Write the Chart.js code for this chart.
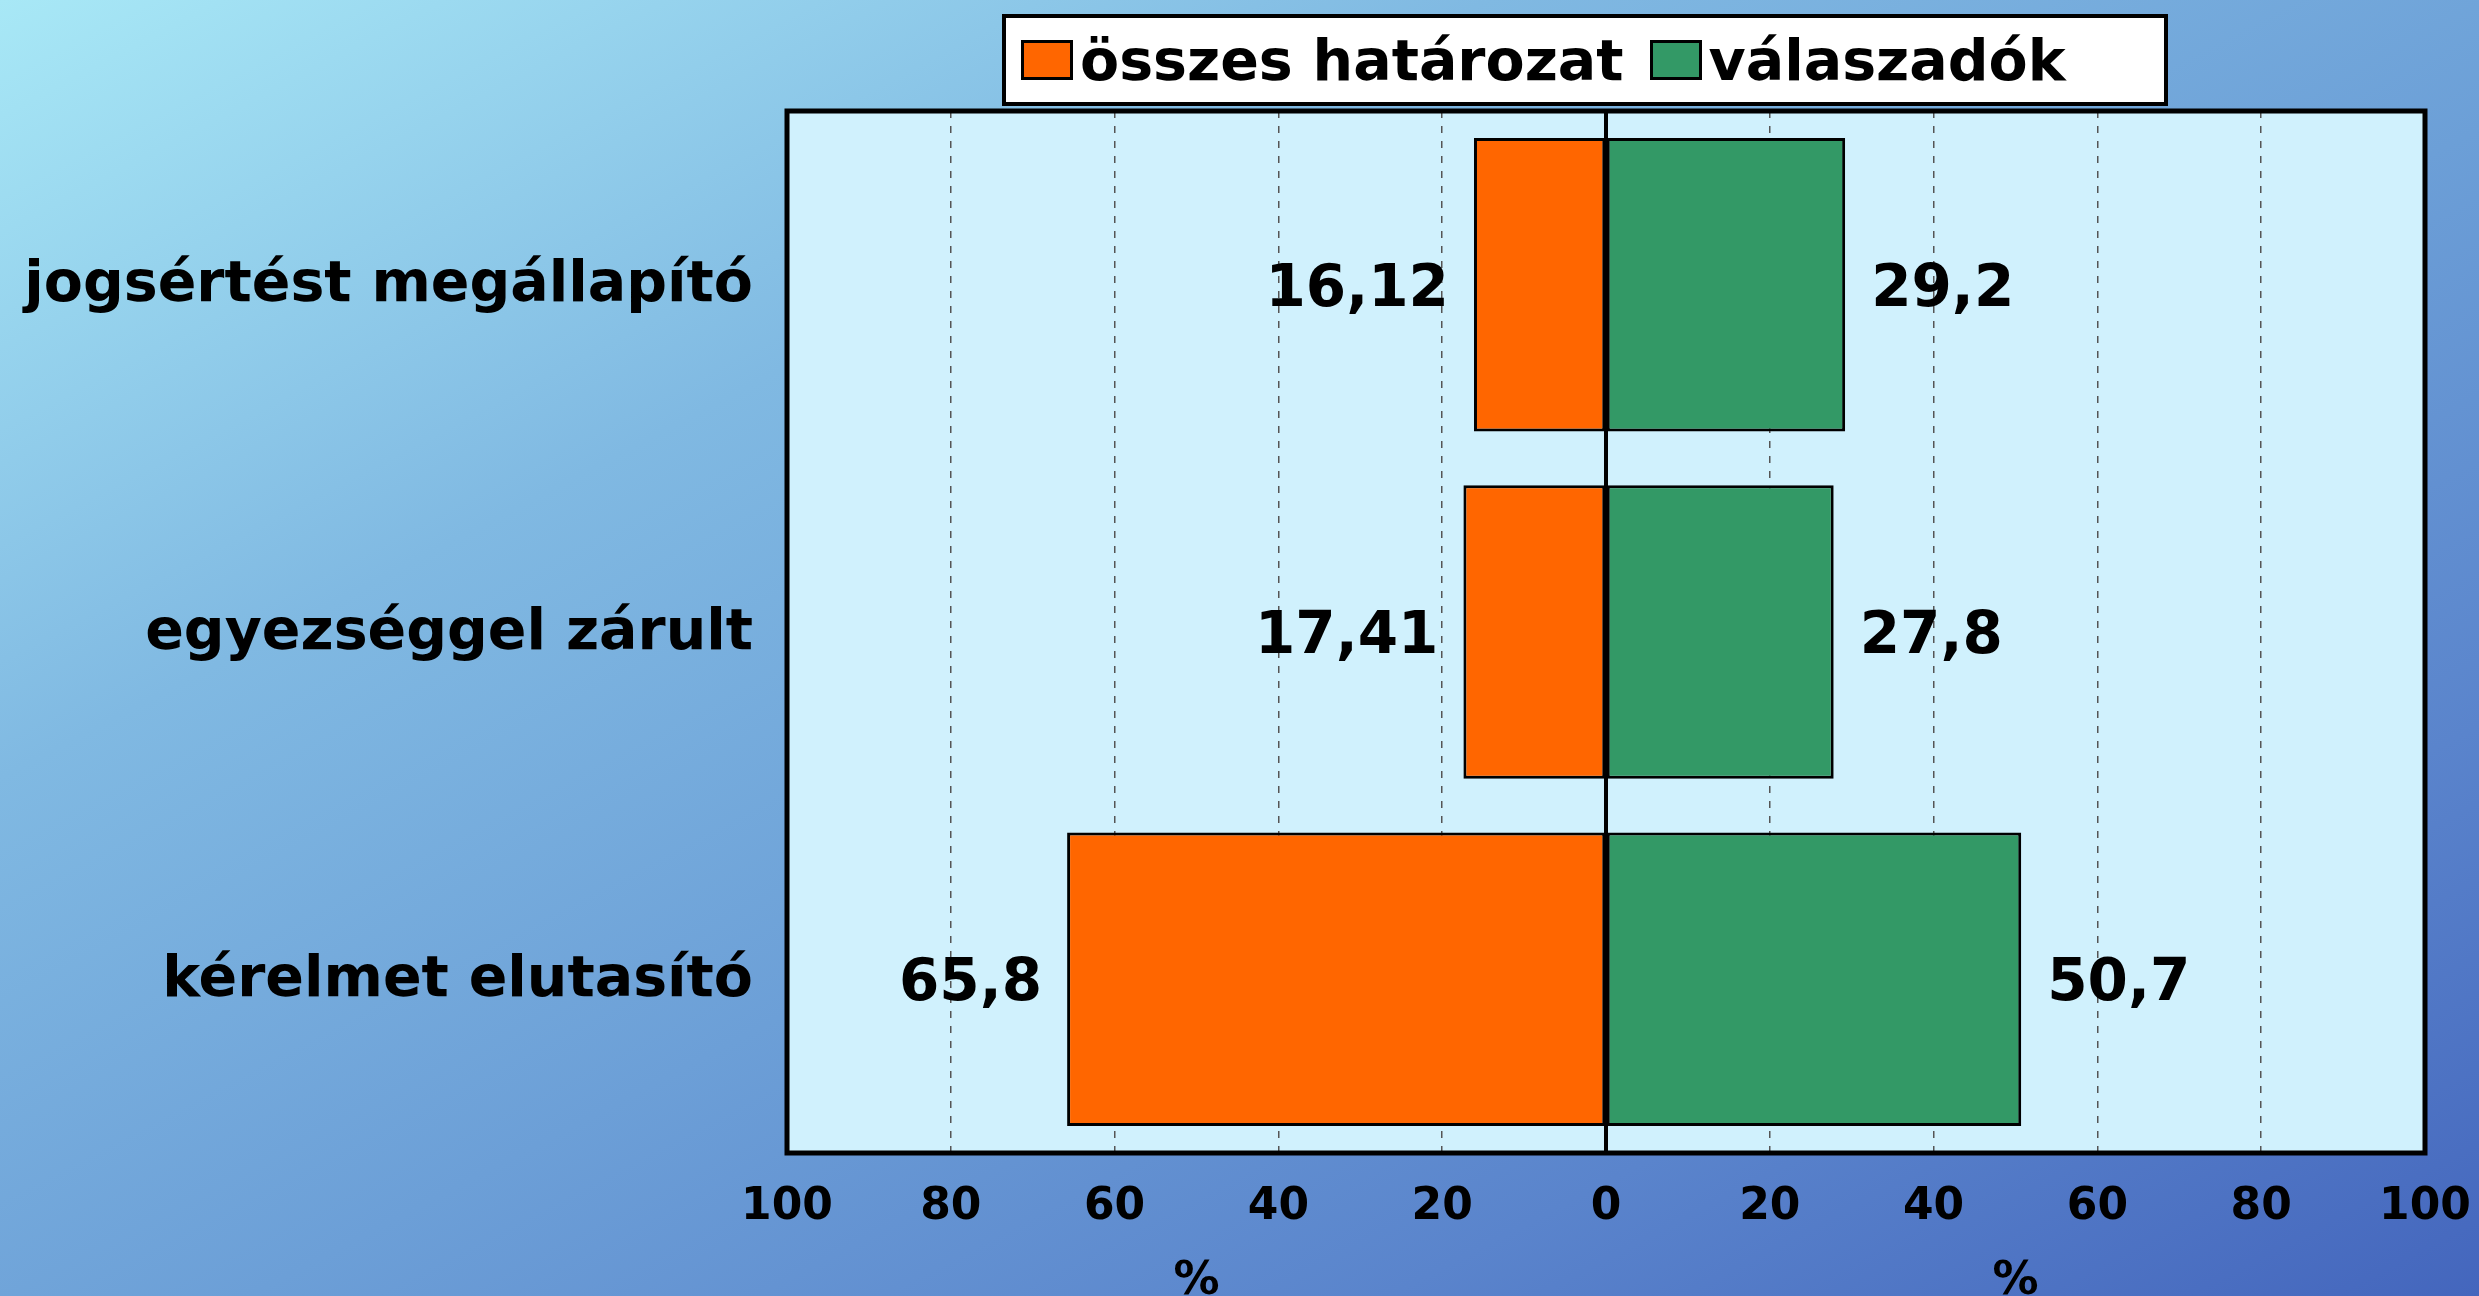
<!DOCTYPE html>
<html>
<head>
<meta charset="utf-8">
<script src="https://cdn.jsdelivr.net/npm/chart.js@4"></script>
<style>
  html, body { margin: 0; padding: 0; }
  body {
    width: 2479px; height: 1296px; overflow: hidden; position: relative;
    background: linear-gradient(to bottom right, #a8e8f6 0%, #80b9e2 30%, #6c9fd7 55%, #5a84cc 78%, #4466bd 100%);
    font-family: "DejaVu Sans", Verdana, sans-serif;
  }
  #grafico { position: absolute; left: 0; top: 0; }
  #leyenda {
    position: absolute; left: 1002px; top: 14px; width: 1166px; height: 92px;
    background: #fff; border: 4px solid #000; box-sizing: border-box;
    display: flex; align-items: center; padding-left: 15px;
    font-weight: bold; font-size: 57px; color: #000; white-space: nowrap;
  }
  #leyenda .item { display: flex; align-items: center; margin-right: 26px; }
  #leyenda .caja { width: 46px; height: 34px; border: 3px solid #000; margin-right: 7px; }
</style>
</head>
<body>
<canvas id="grafico" width="2479" height="1296"></canvas>
<div id="leyenda"></div>
<script>
/* =====================================
   DATOS
===================================== */

const categorias = [
    "jogsértést megállapító",
    "egyezséggel zárult",
    "kérelmet elutasító"
];

const serieNombres = ["összes határozat", "válaszadók"];

// a bal oldali sorozat negatív értékként kerül a tengelyre
const osszesHatarozat = [16.12, 17.41, 65.8];
const valaszadok = [29.2, 27.8, 50.7];

const tickErtekek = [-100, -80, -60, -40, -20, 0, 20, 40, 60, 80, 100];

const colores = ["#ff6600", "#339966"];

/* =====================================
   PLUGINS
===================================== */

const fondoArea = {
    id: "fondoArea",
    beforeDraw(chart){
        const {ctx, chartArea:a} = chart;
        ctx.save();
        ctx.fillStyle = "#d0f1fd";
        ctx.fillRect(a.left, a.top, a.right - a.left, a.bottom - a.top);
        ctx.restore();
    },
    afterDatasetsDraw(chart){
        const {ctx, chartArea:a, scales} = chart;
        const x0 = scales.x.getPixelForValue(0);
        ctx.save();
        ctx.strokeStyle = "#000";
        ctx.lineWidth = 4;
        ctx.beginPath();
        ctx.moveTo(x0, a.top);
        ctx.lineTo(x0, a.bottom);
        ctx.stroke();
        ctx.lineWidth = 5;
        ctx.strokeRect(a.left, a.top, a.right - a.left, a.bottom - a.top);
        ctx.restore();
    }
};

const etiquetas = {
    id: "etiquetas",
    afterDatasetsDraw(chart){
        const {ctx, scales} = chart;
        ctx.save();
        ctx.fillStyle = "#000";
        ctx.font = "bold 58px 'DejaVu Sans'";
        ctx.textBaseline = "middle";

        chart.data.datasets.forEach((ds, i) => {
            const meta = chart.getDatasetMeta(i);
            meta.data.forEach((bar, j) => {
                const v = Math.abs(ds.data[j]);
                const txt = String(v).replace(".", ",");
                if(ds.data[j] < 0){
                    ctx.textAlign = "right";
                    ctx.fillText(txt, bar.x - 25, bar.y + 6);
                } else {
                    ctx.textAlign = "left";
                    ctx.fillText(txt, bar.x + 26, bar.y + 6);
                }
            });
        });

        // "%" a két félhez
        ctx.font = "bold 46px 'DejaVu Sans'";
        ctx.textAlign = "center";
        ctx.fillText("%", scales.x.getPixelForValue(-50), 1282);
        ctx.fillText("%", scales.x.getPixelForValue(50), 1282);
        ctx.restore();
    }
};

/* =====================================
   GRAFICA
===================================== */

const chart = new Chart(document.getElementById("grafico"), {
    type: "bar",
    data: {
        labels: categorias,
        datasets: [
            {
                label: serieNombres[0],
                data: osszesHatarozat.map(v => -v),
                backgroundColor: colores[0],
                borderColor: "#000",
                borderWidth: 3,
                borderSkipped: false
            },
            {
                label: serieNombres[1],
                data: valaszadok,
                backgroundColor: colores[1],
                borderColor: "#000",
                borderWidth: 3,
                borderSkipped: false
            }
        ]
    },
    options: {
        indexAxis: "y",
        responsive: false,
        animation: false,
        layout: { padding: { top: 111, right: 54, bottom: 0, left: 0 } },
        datasets: { bar: { categoryPercentage: 1, barPercentage: 0.845 } },
        plugins: {
            legend: { display: false },
            tooltip: { enabled: false }
        },
        scales: {
            x: {
                min: -100,
                max: 100,
                stacked: true,
                afterFit(scale){
                    scale.height = 143;
                    scale.paddingLeft = 0;
                    scale.paddingRight = 0;
                },
                afterBuildTicks(scale){
                    scale.ticks = tickErtekek.map(v => ({ value: v }));
                },
                ticks: {
                    color: "#000",
                    font: { family: "DejaVu Sans", weight: "bold", size: 44 },
                    padding: 28,
                    maxRotation: 0,
                    autoSkip: false,
                    callback: v => Math.abs(v)
                },
                grid: {
                    drawTicks: false,
                    lineWidth: 1.5,
                    color: c => (c.tick && c.tick.value === 0) ? "rgba(0,0,0,0)" : "#555"
                },
                border: { display: false, dash: [7, 8] }
            },
            y: {
                stacked: true,
                afterFit(scale){ scale.width = 787; },
                ticks: {
                    color: "#000",
                    font: { family: "DejaVu Sans", weight: "bold", size: 57 },
                    padding: 34,
                    labelOffset: 2
                },
                grid: { display: false, drawTicks: false },
                border: { display: false }
            }
        }
    },
    plugins: [fondoArea, etiquetas]
});

/* =====================================
   LEYENDA
===================================== */

const leyenda = document.getElementById("leyenda");
chart.data.datasets.forEach(ds => {
    const item = document.createElement("div");
    item.className = "item";
    const caja = document.createElement("div");
    caja.className = "caja";
    caja.style.background = ds.backgroundColor;
    const txt = document.createElement("span");
    txt.textContent = ds.label;
    item.appendChild(caja);
    item.appendChild(txt);
    leyenda.appendChild(item);
});
</script>
</body>
</html>
